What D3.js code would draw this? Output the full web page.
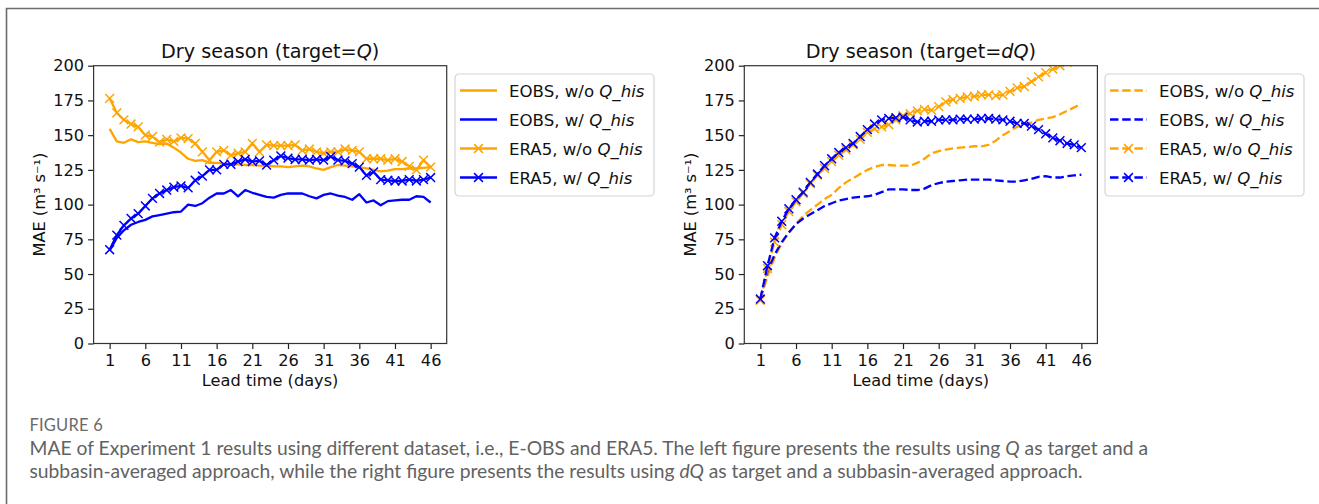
<!DOCTYPE html>
<html>
<head>
<meta charset="utf-8">
<script src="https://cdn.jsdelivr.net/npm/d3@7"></script>
<style>
html,body{margin:0;padding:0;background:#fff;}
svg{display:block;}
</style>
</head>
<body>
<svg id="fig" width="1319" height="504"></svg>
<script>
// ---------------- data ----------------
const leadDays = [1,2,3,4,5,6,7,8,9,10,11,12,13,14,15,16,17,18,19,20,21,22,23,24,25,26,27,28,29,30,31,32,33,34,35,36,37,38,39,40,41,42,43,44,45,46];
const xTickValues = [1,6,11,16,21,26,31,36,41,46];
const yTickValues = [0,25,50,75,100,125,150,175,200];

// Left panel: target = Q
const leftEobsWo = [154.5,145.5,144.5,147,145,145.5,144.5,143.5,144,141,137.5,133,131.5,132,130,130,129.5,129,129,128.5,128.5,128,128,127.5,127.5,127,127.5,128,127.5,126,125,127,128.5,128,127.5,127,126,125,124,124.5,125.5,125.5,126,126,126.5,127];
const leftEobsW  = [67,76,81.5,85.5,87.5,89,91.5,92.5,93.5,94.5,95,100,99,101,105,108,108,110.5,106,110.5,108.5,107,105.5,105,107,108,108,108,106,104.5,107,108,106.5,105.5,103.5,107.5,101.5,103,99.5,102.5,103,103.5,103.5,106,105.5,101.5];
const leftEra5Wo = [176.5,166,161,158,156,150,149,145,147,145.5,148,147.5,144,138,132,138,139,135.5,137,138,144,138,143,142.5,142.5,142.5,143,139,140,138,137,138,138,140,139,138,133,133,133,132,133,131,127.5,125,132,127];
const leftEra5W  = [67.5,78,85,90,93.5,99,104.5,108,110.5,112.5,113.5,112,117.5,120.5,125,125,129,129,131,132.5,131,131.5,128.5,132,135,133.5,132.5,132.5,132,132.5,132,134.5,132,131.5,129.5,127,121,123.5,118,117.5,117,117,118,117,118,119.5];

// Right panel: target = dQ
const rightEobsWo = [32,48,62,72,80,86,92,96,100,104,107,112,116,119,122,125,127,128.5,128.5,128,128,128,130,133,137,138.5,139.5,140.5,141,141.5,142,142,143,146,150,153,156,158,159,161,162,163,165,167.5,170,172.5];
const rightEobsW  = [32,52,64,73,80,86,90,93,96,99,101,103,104,105,105.5,106,107,109,111,111,111,110.5,110.5,111.5,114,115.5,116.5,117,117.5,118,118,118,118,117.5,117,116.5,116.5,117.5,118.5,120,120.5,119.5,119.5,120.5,121,121.5];
const rightEra5Wo = [31,54,73,85.5,95,102,108,115,121,126,131,135.5,139.5,143,147,152,154.5,156,157.5,161,164,165.5,167.5,168.5,168,170.5,174,175.5,176.5,177.5,178,179,179,178.5,179,181.5,184,185,188.5,192,195,197.5,200,202.5,205,208];
const rightEra5W  = [32,56,76,88,97,103.5,109,116,122,128,133,137.5,141,144,149,154,158,161,162,162.5,163,161,159.5,160,160,161,161,161,161.5,161.5,161.5,162,162,161.5,161,160,158.5,158.5,156.5,154,151,148,146,144,143,141];

const seriesNames = ["EOBS, w/o ", "EOBS, w/ ", "ERA5, w/o ", "ERA5, w/ "];
const panelTitles = ["Q", "dQ"];
const yLabel = "MAE (m\u00B3 s\u207B\u00B9)";
const xLabel = "Lead time (days)";
const captionHead = "FIGURE 6";

// ---------------- drawing ----------------
const svg = d3.select("#fig");
const ORANGE = "#FFA500", BLUE = "#0000FF";
const FONT = "DejaVu Sans, Verdana, sans-serif";

// figure frame
svg.append("path").attr("d","M6.5,504 L6.5,8.5 L1319,8.5")
  .attr("fill","none").attr("stroke","#6b6b6b").attr("stroke-width",1.6);

const panels = [
  {x0:93.6, title:panelTitles[0], dashed:false, legX:455,
   series:[leftEobsWo,leftEobsW,leftEra5Wo,leftEra5W]},
  {x0:744.3, title:panelTitles[1], dashed:true, legX:1105,
   series:[rightEobsWo,rightEobsW,rightEra5Wo,rightEra5W]}
];
const styles = [
  {color:ORANGE, marker:false},
  {color:BLUE, marker:false},
  {color:ORANGE, marker:true},
  {color:BLUE, marker:true}
];
const W = 353.1, yTop = 65.7, yBot = 343.5;
const DASH = "8.5,3.7";
const xMark = s => `M${-s},${-s}L${s},${s}M${-s},${s}L${s},${-s}`;

panels.forEach((p, pi) => {
  const x = d3.scaleLinear().domain([-1.25, 48.25]).range([p.x0, p.x0 + W]);
  const y = d3.scaleLinear().domain([0, 200]).range([yBot, yTop]);
  const g = svg.append("g");

  const clipId = "clip" + pi;
  svg.append("clipPath").attr("id", clipId).append("rect")
    .attr("x", p.x0).attr("y", yTop).attr("width", W).attr("height", yBot - yTop);

  // axes
  const xAxis = g.append("g").attr("transform", `translate(0,${yBot})`)
    .call(d3.axisBottom(x).tickValues(xTickValues).tickSize(5.5).tickPadding(5).tickFormat(d3.format("d")));
  const yAxis = g.append("g").attr("transform", `translate(${p.x0},0)`)
    .call(d3.axisLeft(y).tickValues(yTickValues).tickSize(5.5).tickPadding(4).tickFormat(d3.format("d")));
  [xAxis, yAxis].forEach(a => {
    a.select(".domain").remove();
    a.selectAll(".tick line").attr("stroke", "#222").attr("stroke-width", 1.2);
    a.selectAll(".tick text").attr("font-family", FONT).attr("font-size", 16.2).attr("fill", "#111");
  });
  xAxis.selectAll(".tick text").attr("dy", "0.71em");

  // lines
  const plot = g.append("g").attr("clip-path", `url(#${clipId})`);
  p.series.forEach((vals, si) => {
    const st = styles[si];
    const pts = leadDays.map((d, i) => [d, vals[i]]);
    const line = d3.line().x(d => x(d[0])).y(d => y(d[1]));
    plot.append("path").datum(pts).attr("d", line)
      .attr("fill", "none").attr("stroke", st.color).attr("stroke-width", 2.3)
      .attr("stroke-linejoin", "round")
      .attr("stroke-dasharray", p.dashed ? DASH : null);
    if (st.marker) {
      plot.selectAll(null).data(pts).enter().append("path")
        .attr("transform", d => `translate(${x(d[0])},${y(d[1])})`)
        .attr("d", xMark(4.4)).attr("fill", "none")
        .attr("stroke", st.color).attr("stroke-width", 1.5);
    }
  });

  // frame (spines)
  g.append("rect").attr("x", p.x0).attr("y", yTop).attr("width", W).attr("height", yBot - yTop)
    .attr("fill", "none").attr("stroke", "#333").attr("stroke-width", 1.2);

  // title
  const t = g.append("text").attr("x", p.x0 + W / 2).attr("y", 58)
    .attr("text-anchor", "middle").attr("font-family", FONT).attr("font-size", 19.2).attr("fill", "#111");
  t.append("tspan").text("Dry season (target=");
  t.append("tspan").attr("font-style", "italic").text(p.title);
  t.append("tspan").text(")");

  // axis labels
  g.append("text").attr("x", p.x0 + W / 2).attr("y", 386).attr("text-anchor", "middle")
    .attr("font-family", FONT).attr("font-size", 16.2).attr("fill", "#111").text(xLabel);
  g.append("text").attr("transform", `translate(${p.x0 - 48.5},${(yTop + yBot) / 2}) rotate(-90)`)
    .attr("text-anchor", "middle").attr("font-family", FONT).attr("font-size", 16.2).attr("fill", "#111").text(yLabel);

  // legend
  const lg = g.append("g").attr("transform", `translate(${p.legX},74)`);
  lg.append("rect").attr("width", 199).attr("height", 122).attr("rx", 4)
    .attr("fill", "#fff").attr("stroke", "#d4d4d4").attr("stroke-width", 1.2);
  seriesNames.forEach((nm, si) => {
    const st = styles[si];
    const ry = 16.5 + si * 29;
    lg.append("line").attr("x1", 5).attr("x2", 42).attr("y1", ry).attr("y2", ry)
      .attr("stroke", st.color).attr("stroke-width", 2.3)
      .attr("stroke-dasharray", p.dashed ? DASH : null);
    if (st.marker) {
      lg.append("path").attr("transform", `translate(23.5,${ry})`).attr("d", xMark(4.4))
        .attr("fill", "none").attr("stroke", st.color).attr("stroke-width", 1.5);
    }
    const tx = lg.append("text").attr("x", 54).attr("y", ry + 6)
      .attr("font-family", FONT).attr("font-size", 16.6).attr("fill", "#111");
    tx.append("tspan").text(nm);
    tx.append("tspan").attr("font-style", "italic").text("Q_his");
  });
});

// caption
const CAPFONT = "Lato, 'Open Sans', sans-serif";
svg.append("text").attr("x", 29.5).attr("y", 431).attr("font-family", CAPFONT)
  .attr("font-size", 16.5).attr("fill", "#6a6a6a").attr("letter-spacing", 0.2).text(captionHead);

const cap1 = svg.append("text").attr("x", 29.5).attr("y", 454.5).attr("font-family", CAPFONT)
  .attr("font-size", 16.5).attr("fill", "#626262");
cap1.append("tspan").text("MAE of Experiment 1 results using different dataset, i.e., E-OBS and ERA5. The left figure presents the results using ");
cap1.append("tspan").attr("font-style", "italic").text("Q");
cap1.append("tspan").text(" as target and a");

const cap2 = svg.append("text").attr("x", 29.5).attr("y", 477.5).attr("font-family", CAPFONT)
  .attr("font-size", 16.5).attr("fill", "#626262");
cap2.append("tspan").text("subbasin-averaged approach, while the right figure presents the results using ");
cap2.append("tspan").attr("font-style", "italic").text("dQ");
cap2.append("tspan").text(" as target and a subbasin-averaged approach.");

// fit caption width to reference (line 1 spans ~1120px)
const w1 = cap1.node().getComputedTextLength();
const fs = 16.5 * 1120 / w1;
cap1.attr("font-size", fs);
cap2.attr("font-size", fs);
</script>
</body>
</html>
